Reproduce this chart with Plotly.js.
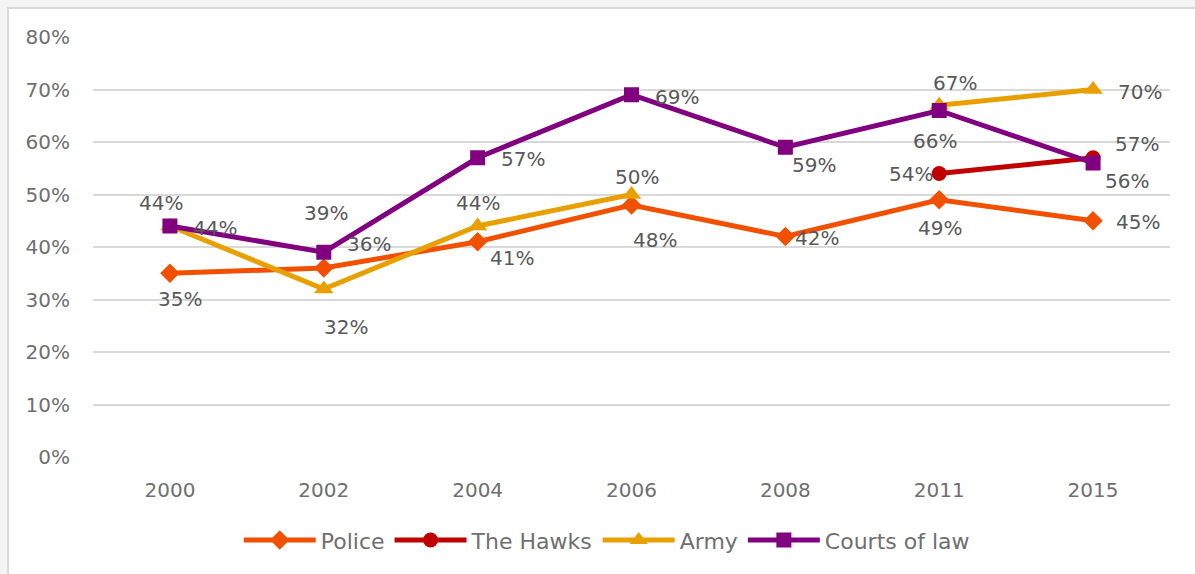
<!DOCTYPE html>
<html>
<head>
<meta charset="utf-8">
<script src="https://cdn.plot.ly/plotly-3.0.1.min.js"></script>
<style>html,body{margin:0;padding:0;background:#f4f4f4;}</style>
</head>
<body>
<div id="chart" style="width:1195px;height:574px;"></div>
<script>
const years = ["2000", "2002", "2004", "2006", "2008", "2011", "2015"];
const police = [0.35, 0.36, 0.41, 0.48, 0.42, 0.49, 0.45];
const hawks = [null, null, null, null, null, 0.54, 0.57];
const army = [0.44, 0.32, 0.44, 0.50, null, 0.67, 0.70];
const courts = [0.44, 0.39, 0.57, 0.69, 0.59, 0.66, 0.56];
const yTicks = [0, 0.1, 0.2, 0.3, 0.4, 0.5, 0.6, 0.7, 0.8];

// label offsets (px) per point, styling only
const policeShift = [[10,-26],[45,24],[34,-16],[23,-35],[32,-1],[1,-28],[45,-1]];
const hawksShift = [null,null,null,null,null,[-28,0],[44,14]];
const armyShift = [[45,-2],[22,-38],[0,23],[5,18],null,[16,22],[47,-2]];
const courtsShift = [[-9,23],[2,39],[45,-1],[45,-2],[29,-18],[-4,-30],[34,-18]];

const FONT = "DejaVu Sans, sans-serif";
const TXT = "#595959";
const TICK = "#6f6f6f";

function trace(name, vals, color, symbol, size) {
  return {
    x: years, y: vals, name: name, type: "scatter", mode: "lines+markers",
    connectgaps: false,
    line: {color: color, width: 5},
    marker: {color: color, symbol: symbol, size: size},
    hoverinfo: "skip"
  };
}

const data = [
  trace("Police", police, "#F05000", "diamond", 15),
  trace("The Hawks", hawks, "#C00000", "circle", 15),
  trace("Army", army, "#E8A000", "triangle-up", 17),
  trace("Courts of law", courts, "#800080", "square", 15)
];

const annotations = [];
function addLabels(vals, shifts) {
  for (let i = 0; i < vals.length; i++) {
    const v = vals[i];
    if (v === null || !shifts[i]) continue;
    annotations.push({
      x: i, y: v, xref: "x", yref: "y",
      text: Math.round(v * 100) + "%", showarrow: false,
      xshift: shifts[i][0], yshift: shifts[i][1],
      font: {family: FONT, size: 20, color: TXT}
    });
  }
}
addLabels(police, policeShift);
addLabels(hawks, hawksShift);
addLabels(army, armyShift);
addLabels(courts, courtsShift);

const layout = {
  width: 1195, height: 574,
  margin: {l: 93, r: 25, t: 37, b: 117},
  paper_bgcolor: "#f4f4f4",
  plot_bgcolor: "rgba(0,0,0,0)",
  font: {family: FONT, size: 19, color: TXT},
  showlegend: true,
  legend: {
    orientation: "h", x: 0.477, xanchor: "center", y: -0.198, yanchor: "middle",
    font: {family: FONT, size: 22, color: TICK}, bgcolor: "rgba(0,0,0,0)",
    traceorder: "normal", itemwidth: 72
  },
  xaxis: {
    type: "category", range: [-0.5, 6.5], showgrid: false, zeroline: false,
    showline: false, ticks: "", ticklabelstandoff: 19,
    tickfont: {family: FONT, size: 20, color: TICK}, fixedrange: true
  },
  yaxis: {
    range: [0, 0.8], tickvals: yTicks, tickformat: ".0%",
    showgrid: true, gridcolor: "#d9d9d9", gridwidth: 2, zeroline: false,
    showline: false, ticks: "", ticklabelstandoff: 22,
    tickfont: {family: FONT, size: 20, color: TICK}, fixedrange: true
  },
  shapes: [{
    type: "rect", xref: "paper", yref: "paper", layer: "below",
    x0: -0.0789, x1: 1.04, y0: -0.3, y1: 1.069,
    line: {color: "#d9d9d9", width: 2}, fillcolor: "#ffffff"
  }],
  annotations: annotations
};

Plotly.newPlot("chart", data, layout, {displayModeBar: false, staticPlot: true});
</script>
</body>
</html>
